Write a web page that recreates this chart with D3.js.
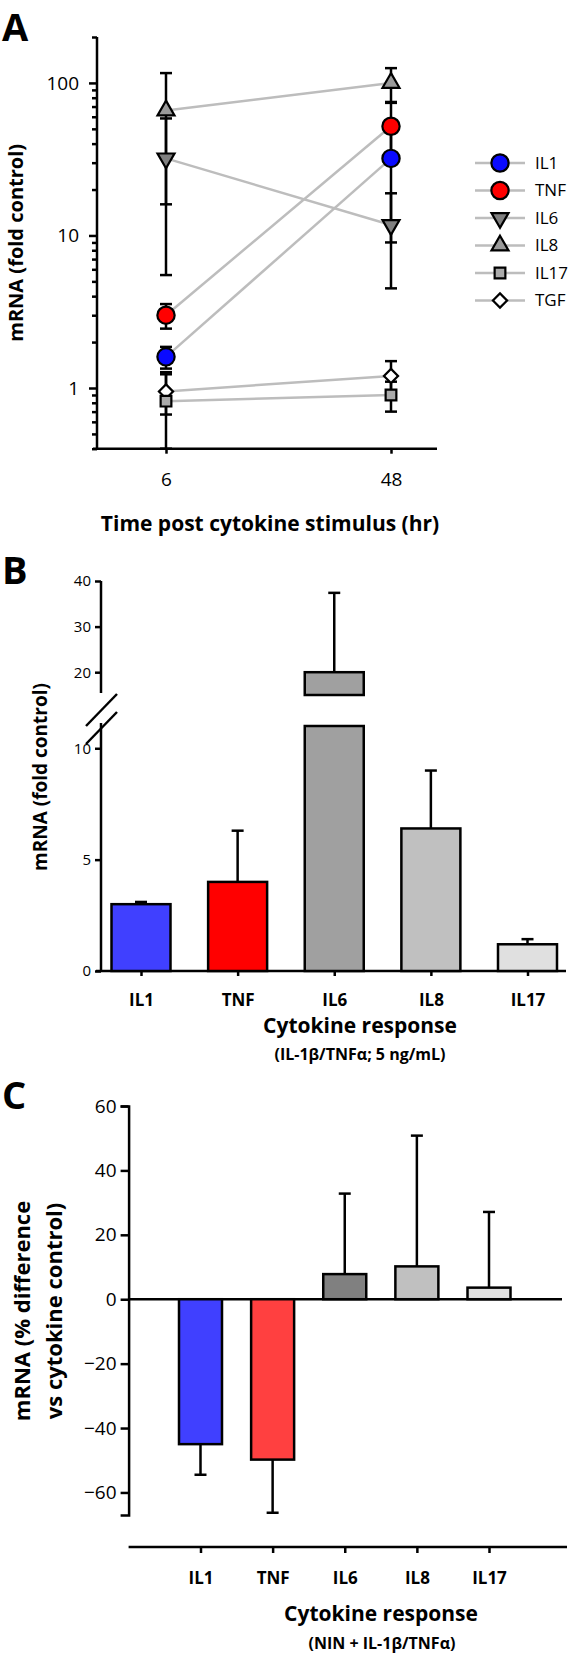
<!DOCTYPE html>
<html><head><meta charset="utf-8">
<script src="https://cdn.jsdelivr.net/npm/d3@7"></script>
<style>
body{margin:0;background:#fff;}
text{font-family:"Open Sans",sans-serif;fill:#000;}
</style></head>
<body><svg id="c" width="568" height="1653"></svg>
<script>
// ---------- DATA ----------
// Panel A
const timeLabels = ["6", "48"];
const seriesA = ["IL1", "TNF", "IL6", "IL8", "IL17", "TGF"];
const meanA6  = [1.6, 3.0, 32, 66, 0.82, 0.95];
const sdA6    = [0.26, 0.55, 26.5, 50, 0.45, 0.28];
const meanA48 = [32, 52, 11.7, 100, 0.9, 1.2];
const sdA48   = [23, 22, 7.2, 25, 0.2, 0.3];
const majorTicksA = [1, 10, 100];
const minorTicksA = [0.4,0.5,0.6,0.7,0.8,0.9,2,3,4,5,6,7,8,9,20,30,40,50,60,70,80,90,200];
// Panel B
const catsB = ["IL1", "TNF", "IL6", "IL8", "IL17"];
const meanB = [3.0, 4.0, 20, 6.4, 1.2];
const sdB   = [0.1, 2.3, 17.4, 2.6, 0.23];
const lowTicksB = [0, 5, 10];
const highTicksB = [20, 30, 40];
// Panel C
const catsC = ["IL1", "TNF", "IL6", "IL8", "IL17"];
const meanC = [-45, -49.8, 7.8, 10.2, 3.6];
const sdC   = [9.5, 16.5, 25, 40.6, 23.5];
const ticksC = [-60, -40, -20, 0, 20, 40, 60];

// styles
const colA = {IL1:"#0a0aff", TNF:"#ff0000", IL6:"#808080", IL8:"#9a9a9a", IL17:"#ababab", TGF:"#ffffff"};
const shapeA = {IL1:"circle", TNF:"circle", IL6:"tridown", IL8:"triup", IL17:"square", TGF:"diamond"};
const colB = ["#4040ff", "#ff0000", "#a0a0a0", "#c0c0c0", "#e0e0e0"];
const colC = ["#4040ff", "#ff4040", "#808080", "#c0c0c0", "#e0e0e0"];

const svg = d3.select("#c");

function styleAxis(g, fs){
  g.selectAll("path.domain").attr("stroke","#000").attr("stroke-width",2.5);
  g.selectAll(".tick line").attr("stroke","#000").attr("stroke-width",2.5);
  g.selectAll(".tick text").attr("font-family","Open Sans").attr("font-size",fs).attr("fill","#000");
}
function symbolPath(shape){
  const s = {circle:[d3.symbolCircle,235], tridown:[d3.symbolTriangle,125], triup:[d3.symbolTriangle,125],
             square:[d3.symbolSquare,115], diamond:[d3.symbolSquare,100]}[shape];
  return d3.symbol(s[0], s[1])();
}
function symbolRot(shape){ return shape==="tridown"?180:(shape==="diamond"?45:0); }
function panelLetter(txt, y){
  svg.append("text").attr("x",2).attr("y",y).attr("font-family","Liberation Sans")
    .attr("font-size",38).attr("font-weight","bold").text(txt);
}

// ---------- PANEL A ----------
const xA = d3.scalePoint().domain(timeLabels).range([166, 391]);
const yA = d3.scaleLog().domain([0.4, 200]).range([448.7, 37]);
const axisXA = 97, rightA = 437;
const gA = svg.append("g");

const gMinor = gA.append("g").attr("transform",`translate(${axisXA},0)`)
  .call(d3.axisLeft(yA).tickValues(minorTicksA).tickSize(5).tickFormat(""));
styleAxis(gMinor, 18);
gMinor.select("path.domain").remove();
const gMajor = gA.append("g").attr("transform",`translate(${axisXA},0)`)
  .call(d3.axisLeft(yA).tickValues(majorTicksA).tickSize(8).tickPadding(10).tickFormat(d3.format("d")));
styleAxis(gMajor, 19);
gMajor.select("path.domain").attr("d", `M0,${yA.range()[0]}V${yA.range()[1]}`);

const gxA = gA.append("g").attr("transform",`translate(0,${yA.range()[0]})`)
  .call(d3.axisBottom(xA).tickSize(5).tickPadding(19));
styleAxis(gxA, 19);
gxA.select("path.domain").attr("d", `M${axisXA-4},0H${rightA}`);

seriesA.forEach((s,i)=>{
  gA.append("line")
    .attr("x1", xA("6")).attr("y1", yA(meanA6[i]))
    .attr("x2", xA("48")).attr("y2", yA(meanA48[i]))
    .attr("stroke","#bdbdbd").attr("stroke-width",2.5);
});
const lo = yA.domain()[0];
function errA(t, m, sd){
  const x = xA(t);
  const top = m + sd, bot = Math.max(lo, m - sd);
  gA.append("line").attr("x1",x).attr("x2",x).attr("y1",yA(top)).attr("y2",yA(bot))
    .attr("stroke","#000").attr("stroke-width",2.5);
  [top, bot].forEach(v=>{
    gA.append("line").attr("x1",x-6).attr("x2",x+6).attr("y1",yA(v)).attr("y2",yA(v))
      .attr("stroke","#000").attr("stroke-width",2.5);
  });
}
seriesA.forEach((s,i)=>{ errA("6", meanA6[i], sdA6[i]); errA("48", meanA48[i], sdA48[i]); });
const drawOrder = ["TGF","IL17","IL8","IL6","IL1","TNF"];
drawOrder.forEach(s=>{
  const i = seriesA.indexOf(s);
  [["6",meanA6[i]],["48",meanA48[i]]].forEach(([t,v])=>{
    gA.append("path").attr("d", symbolPath(shapeA[s]))
      .attr("transform",`translate(${xA(t)},${yA(v)}) rotate(${symbolRot(shapeA[s])})`)
      .attr("fill", colA[s]).attr("stroke","#000").attr("stroke-width",2.2);
  });
});
const legY = d3.scalePoint().domain(seriesA).range([163, 300.5]);
seriesA.forEach(s=>{
  const y = legY(s);
  gA.append("line").attr("x1",475).attr("x2",525).attr("y1",y).attr("y2",y)
    .attr("stroke","#bdbdbd").attr("stroke-width",2.5);
  gA.append("path").attr("d", symbolPath(shapeA[s]))
    .attr("transform",`translate(500,${y}) rotate(${symbolRot(shapeA[s])})`)
    .attr("fill", colA[s]).attr("stroke","#000").attr("stroke-width",2.2);
  gA.append("text").attr("x",535).attr("y",y).attr("dy","0.35em")
    .attr("font-size",17).text(s);
});
gA.append("text").attr("transform",`translate(23,${(yA.range()[0]+yA.range()[1])/2}) rotate(-90)`)
  .attr("text-anchor","middle").attr("font-size",20).attr("font-weight","bold").text("mRNA (fold control)");
gA.append("text").attr("x",270).attr("y",531).attr("text-anchor","middle")
  .attr("font-size",21).attr("font-weight","bold").text("Time post cytokine stimulus (hr)");
panelLetter("A", 41);

// ---------- PANEL B ----------
const gB = svg.append("g");
const axisXB = 101;
const xB = d3.scalePoint().domain(catsB).range([141, 527.5]);
const bwB = 59;
const yBlow = d3.scaleLinear().domain([0, 11]).range([971, 726]);
const yBhigh = d3.scaleLinear().domain([15, 40]).range([695, 581]);

const gBl = gB.append("g").attr("transform",`translate(${axisXB},0)`)
  .call(d3.axisLeft(yBlow).tickValues(lowTicksB).tickSize(6).tickPadding(4));
styleAxis(gBl, 15);
gBl.select("path.domain").attr("d",`M0,${yBlow.range()[0]}V${yBlow.range()[1]-3}`);
const gBh = gB.append("g").attr("transform",`translate(${axisXB},0)`)
  .call(d3.axisLeft(yBhigh).tickValues(highTicksB).tickSize(6).tickPadding(4));
styleAxis(gBh, 15);
gBh.select("path.domain").attr("d",`M0,${yBhigh.range()[0]-2}V${yBhigh.range()[1]}`);
const brLow = yBlow.range()[1], brHigh = yBhigh.range()[0];
[brLow+2, brHigh+15].forEach(yc=>{
  gB.append("line").attr("x1",axisXB-15).attr("y1",yc+16).attr("x2",axisXB+16).attr("y2",yc-16)
    .attr("stroke","#000").attr("stroke-width",2.5);
});
const gxB = gB.append("g").attr("transform",`translate(0,${yBlow(0)})`)
  .call(d3.axisBottom(xB).tickSize(5).tickPadding(18));
styleAxis(gxB, 17);
gxB.selectAll(".tick text").attr("font-weight","bold");
gxB.select("path.domain").attr("d",`M${axisXB-5},0H566`);
catsB.forEach((c,i)=>{
  const x = xB(c) - bwB/2, v = meanB[i];
  const topLow = yBlow(Math.min(v, yBlow.domain()[1]));
  gB.append("rect").attr("x",x).attr("width",bwB).attr("y",topLow).attr("height",yBlow(0)-topLow)
    .attr("fill",colB[i]).attr("stroke","#000").attr("stroke-width",2.5);
  const e = v + sdB[i];
  const sc = v > yBlow.domain()[1] ? yBhigh : yBlow;
  if (v > yBlow.domain()[1]) {
    gB.append("rect").attr("x",x).attr("width",bwB).attr("y",yBhigh(v)).attr("height",yBhigh(15)-yBhigh(v))
      .attr("fill",colB[i]).attr("stroke","#000").attr("stroke-width",2.5);
  }
  gB.append("line").attr("x1",xB(c)).attr("x2",xB(c)).attr("y1",sc(v)).attr("y2",sc(e))
    .attr("stroke","#000").attr("stroke-width",2.5);
  gB.append("line").attr("x1",xB(c)-6).attr("x2",xB(c)+6).attr("y1",sc(e)).attr("y2",sc(e))
    .attr("stroke","#000").attr("stroke-width",2.5);
});
gB.append("text").attr("transform",`translate(47,777) rotate(-90)`)
  .attr("text-anchor","middle").attr("font-size",19).attr("font-weight","bold").text("mRNA (fold control)");
gB.append("text").attr("x",360).attr("y",1033).attr("text-anchor","middle")
  .attr("font-size",21).attr("font-weight","bold").text("Cytokine response");
gB.append("text").attr("x",360).attr("y",1060).attr("text-anchor","middle")
  .attr("font-size",16).attr("font-weight","bold").text("(IL-1β/TNFα; 5 ng/mL)");
panelLetter("B", 584);

// ---------- PANEL C ----------
const gC = svg.append("g");
const axisXC = 128.6;
const xC = d3.scalePoint().domain(catsC).range([200.5, 489]);
const bwC = 43;
const yC = d3.scaleLinear().domain([-67, 60]).range([1515, 1106]);
const gyC = gC.append("g").attr("transform",`translate(${axisXC},0)`)
  .call(d3.axisLeft(yC).tickValues(ticksC).tickSize(8).tickPadding(4));
styleAxis(gyC, 19);
gC.append("line").attr("x1",axisXC).attr("x2",562).attr("y1",yC(0)).attr("y2",yC(0))
  .attr("stroke","#000").attr("stroke-width",2.5);
catsC.forEach((c,i)=>{
  const v = meanC[i], x = xC(c) - bwC/2;
  gC.append("rect").attr("x",x).attr("width",bwC).attr("y",Math.min(yC(v),yC(0)))
    .attr("height",Math.abs(yC(v)-yC(0)))
    .attr("fill",colC[i]).attr("stroke","#000").attr("stroke-width",2.5);
  const e = v < 0 ? v - sdC[i] : v + sdC[i];
  gC.append("line").attr("x1",xC(c)).attr("x2",xC(c)).attr("y1",yC(v)).attr("y2",yC(e))
    .attr("stroke","#000").attr("stroke-width",2.5);
  gC.append("line").attr("x1",xC(c)-6).attr("x2",xC(c)+6).attr("y1",yC(e)).attr("y2",yC(e))
    .attr("stroke","#000").attr("stroke-width",2.5);
});
const gxC = gC.append("g").attr("transform",`translate(0,1547)`)
  .call(d3.axisBottom(xC).tickSize(6).tickPadding(19));
styleAxis(gxC, 17);
gxC.selectAll(".tick text").attr("font-weight","bold");
gxC.select("path.domain").attr("d",`M${axisXC},0H567`);
const ytC = gC.append("text").attr("transform",`translate(0,1311) rotate(-90)`)
  .attr("text-anchor","middle").attr("font-size",22).attr("font-weight","bold");
ytC.append("tspan").attr("x",0).attr("y",30).text("mRNA (% difference");
ytC.append("tspan").attr("x",0).attr("y",62).text("vs cytokine control)");
gC.append("text").attr("x",381).attr("y",1621).attr("text-anchor","middle")
  .attr("font-size",21).attr("font-weight","bold").text("Cytokine response");
gC.append("text").attr("x",382).attr("y",1649).attr("text-anchor","middle")
  .attr("font-size",16).attr("font-weight","bold").text("(NIN + IL-1β/TNFα)");
panelLetter("C", 1109);
</script></body></html>
